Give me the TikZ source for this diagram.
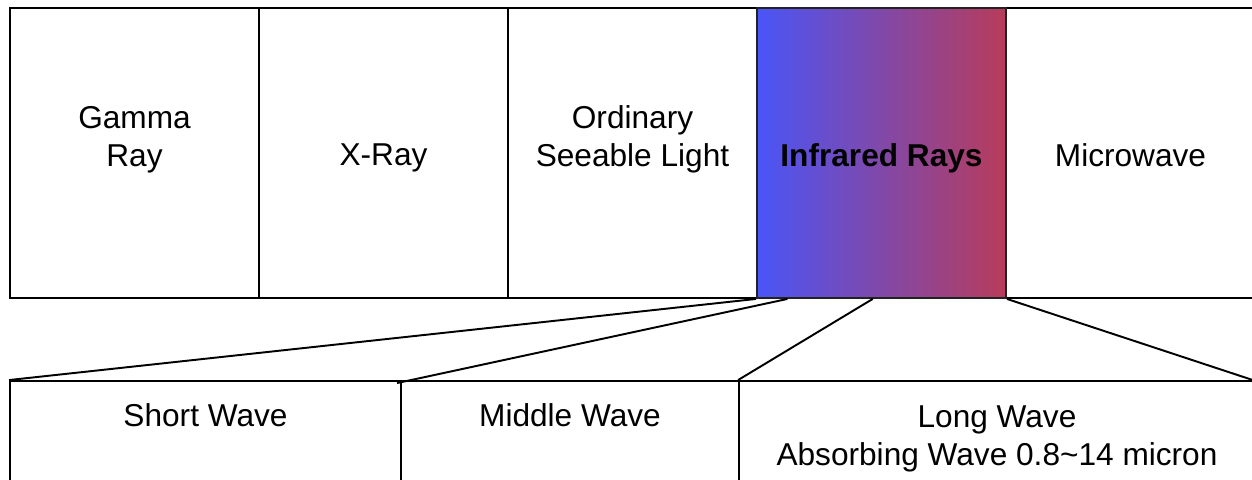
\documentclass[tikz,border=0pt]{standalone}
\usepackage{fontspec}
\setmainfont{Liberation Sans}
\usetikzlibrary{calc}
\definecolor{irL}{RGB}{74,85,247}
\definecolor{irR}{RGB}{184,60,90}
\definecolor{irB}{RGB}{34,34,34}
\begin{document}
\begin{tikzpicture}[x=0.02cm,y=-0.02cm,
  box/.style={draw=black,line width=1.1pt,rectangle,inner sep=0pt,minimum height=5.8cm,minimum width=4.98cm},
  lowbox/.style={draw=black,line width=1.1pt,rectangle,inner sep=0pt,minimum height=3.18cm},
  txt/.style={font=\fontsize{18}{21.6}\selectfont,align=center,inner sep=0pt},
  conn/.style={draw=black,line width=1.1pt}]
\useasboundingbox (0,0) rectangle (1252,480);
\clip (0,0) rectangle (1252,480);
% top row
\node[box] (gamma) at (134.5,153) {};
\node[box] (xray) at (383.5,153) {};
\node[box] (vis) at (632.5,153) {};
\node[box] (micro) at (1130.5,153) {};
\node[box,draw=irB,left color=irL,right color=irR] (ir) at (881.5,153) {};
% bottom row
\node[lowbox,minimum width=7.82cm] (short) at (205.5,460.5) {};
\node[lowbox,minimum width=6.76cm] (middle) at (570,460.5) {};
\node[lowbox,minimum width=10.32cm] (long) at (997,460.5) {};
% texts
\node[txt] (tgamma) at (134.5,140) {Gamma\\Ray};
\node[txt] (txray) at (383.5,158) {X-Ray};
\node[txt] (tvis) at (632.5,139) {Ordinary\\Seeable Light};
\node[txt,font=\fontsize{18}{21.6}\selectfont\bfseries,text=black!90!irB] (tir) at (881.5,158) {Infrared Rays};
\node[txt] (tmicro) at (1130.5,155) {Microwave};
\node[txt] (tshort) at (205.5,415) {Short Wave};
\node[txt] (tmiddle) at (570,415) {Middle Wave};
\node[txt] (tlong) at (997,439) {Long Wave\\Absorbing Wave 0.8\textasciitilde14 micron};
% connectors
\coordinate (p2) at ($(ir.south west)!0.125!(ir.south east)$);
\coordinate (p3) at ($(ir.south west)!0.465!(ir.south east)$);
\coordinate (q4) at ($(long.north west)!0.994!(long.north east)$);
\draw[conn] (ir.south west) -- (short.north west);
\draw[conn] (p2) -- ($(middle.north west)+(-3,3)$);
\draw[conn] (p3) -- (long.north west);
\draw[conn] (ir.south east) -- (q4);
\end{tikzpicture}
\end{document}
